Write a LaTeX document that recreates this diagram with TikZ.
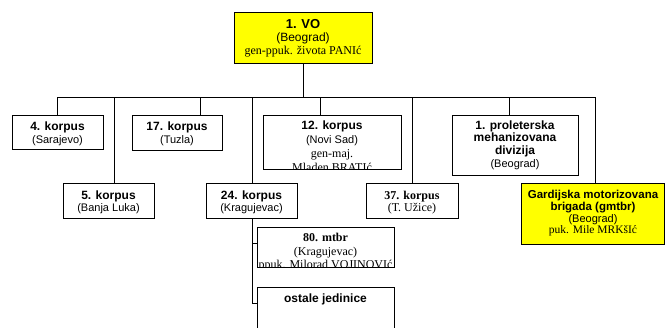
\documentclass[tikz,border=0pt]{standalone}
\usepackage{fontspec}
\setmainfont{Liberation Serif}
\setsansfont{Liberation Sans}
\newcommand\ttl{\sffamily\bfseries\fontsize{12}{13}\selectfont}
\newcommand\ttlbig{\sffamily\bfseries\fontsize{13}{13}\selectfont}
\newcommand\ttlsm{\sffamily\bfseries\fontsize{11.5}{12}\selectfont}
\newcommand\subtxt{\sffamily\fontsize{11}{13}\selectfont}
\newcommand\subbig{\sffamily\fontsize{12}{13}\selectfont}
\newcommand\sertxt{\rmfamily\fontsize{12}{13}\selectfont}
\newcommand\sersm{\rmfamily\fontsize{11.5}{12}\selectfont}
\newcommand\serttl{\rmfamily\bfseries\fontsize{12}{13}\selectfont}
\definecolor{ylw}{RGB}{255,255,0}
\begin{document}
\begin{tikzpicture}[x=1pt,y=-1pt,
  box/.style={draw, line width=1pt, inner sep=0pt},
  conn/.style={line width=0.9pt},
  lbl/.style={anchor=base, inner sep=0pt}]
\useasboundingbox (0,0) rectangle (666,327);
\clip (0,0) rectangle (666,327);
% boxes
\node[box, fill=ylw, minimum width=138pt, minimum height=51pt] (vo) at (303,37.5) {};
\node[box, minimum width=91pt, minimum height=34pt] (k4) at (57.5,132) {};
\node[box, minimum width=90pt, minimum height=35pt] (k17) at (177,133) {};
\node[box, minimum width=138pt, minimum height=54pt] (k12) at (332,142) {};
\node[box, minimum width=126pt, minimum height=60pt] (prol) at (515,145) {};
\node[box, minimum width=91pt, minimum height=35pt] (k5) at (108.5,200.5) {};
\node[box, minimum width=91pt, minimum height=35pt] (k24) at (251.5,200.5) {};
\node[box, minimum width=92pt, minimum height=35pt] (k37) at (412,200.5) {};
\node[box, fill=ylw, minimum width=143pt, minimum height=61pt] (gard) at (593,213.5) {};
\node[box, minimum width=137pt, minimum height=40pt] (m80) at (325.5,247) {};
\node[box, minimum width=137pt, minimum height=53pt] (ost) at (325.5,313.5) {};
% texts
\node[lbl] (vo1) at (303,28.7) {\ttlbig 1. VO};
\node[lbl] (vo2) at (303,41.5) {\subbig (Beograd)};
\node[lbl] (vo3) at (303,54.5) {\sertxt gen-ppuk. života PANIć};
\node[lbl] (k4a) at (57.5,130) {\ttl 4. korpus};
\node[lbl] (k4b) at (57.5,143.3) {\subtxt (Sarajevo)};
\node[lbl] (k17a) at (177,130.5) {\ttl 17. korpus};
\node[lbl] (k17b) at (177,143.8) {\subtxt (Tuzla)};
\node[lbl] (pra) at (515,129) {\ttl 1. proleterska};
\node[lbl] (prb) at (515,141.7) {\ttl mehanizovana};
\node[lbl] (prc) at (515,154.3) {\ttl divizija};
\node[lbl] (prd) at (515,167.3) {\subtxt (Beograd)};
\node[lbl] (k5a) at (108.5,199) {\ttl 5. korpus};
\node[lbl] (k5b) at (108.5,211.7) {\subtxt (Banja Luka)};
\node[lbl] (k24a) at (251.5,199) {\ttl 24. korpus};
\node[lbl] (k24b) at (251.5,211.7) {\subtxt (Kragujevac)};
\node[lbl] (k37a) at (412,199.3) {\serttl 37. korpus};
\node[lbl] (k37b) at (412,211.7) {\sertxt (T. Užice)};
\node[lbl] (ga) at (593,198.7) {\ttlsm Gardijska motorizovana};
\node[lbl] (gb) at (593,210.3) {\ttlsm brigada (gmtbr)};
\node[lbl] (gc) at (593,222) {\subtxt (Beograd)};
\node[lbl] (gd) at (593,233.7) {\sersm puk. Mile MRKšIć};
\node[lbl] (osta) at (325.5,302) {\ttl ostale jedinice};
% clipped texts
\begin{scope}
  \clip ([shift={(0.5pt,-0.5pt)}]k12.north west) rectangle ([shift={(-0.5pt,0.5pt)}]k12.south east);
  \node[lbl] (k12a) at (332,129.3) {\ttl 12. korpus};
  \node[lbl] (k12b) at (332,143) {\subtxt (Novi Sad)};
  \node[lbl] (k12c) at (332,157) {\sertxt gen-maj.};
  \node[lbl] (k12d) at (332,171.5) {\sertxt Mladen BRATIć};
\end{scope}
\begin{scope}
  \clip ([shift={(0.5pt,-0.5pt)}]m80.north west) rectangle ([shift={(-0.5pt,0.5pt)}]m80.south east);
  \node[lbl] (m80a) at (325.5,241.7) {\serttl 80. mtbr};
  \node[lbl] (m80b) at (325.5,255) {\sertxt (Kragujevac)};
  \node[lbl] (m80c) at (325.5,268.5) {\sertxt ppuk. Milorad VOJINOVIć};
\end{scope}
% connectors
\coordinate (busL) at (57.5,97);
\coordinate (busR) at (595,97);
\draw[conn] (busL) -- (busR);
\draw[conn] (vo.south) -- (vo.south |- busL);
\draw[conn] (k4.north) -- (k4.north |- busL);
\draw[conn] ([xshift=23pt]k17.north) -- ([xshift=23pt]k17.north |- busL);
\draw[conn] ([xshift=-12pt]k12.north) -- ([xshift=-12pt]k12.north |- busL);
\draw[conn] ([xshift=-6pt]prol.north) -- ([xshift=-6pt]prol.north |- busL);
\draw[conn] ([xshift=5.5pt]k5.north) -- ([xshift=5.5pt]k5.north |- busL);
\draw[conn] ([xshift=0.5pt]k24.north) -- ([xshift=0.5pt]k24.north |- busL);
\draw[conn] (k37.north) -- (k37.north |- busL);
\draw[conn] ([xshift=2pt]gard.north) -- ([xshift=2pt]gard.north |- busR);
\draw[conn] ([xshift=0.5pt]k24.south) |- ([yshift=4pt]m80.west);
\draw[conn] ([xshift=0.5pt]k24.south) |- ([yshift=10.5pt]ost.west);
\end{tikzpicture}
\end{document}
